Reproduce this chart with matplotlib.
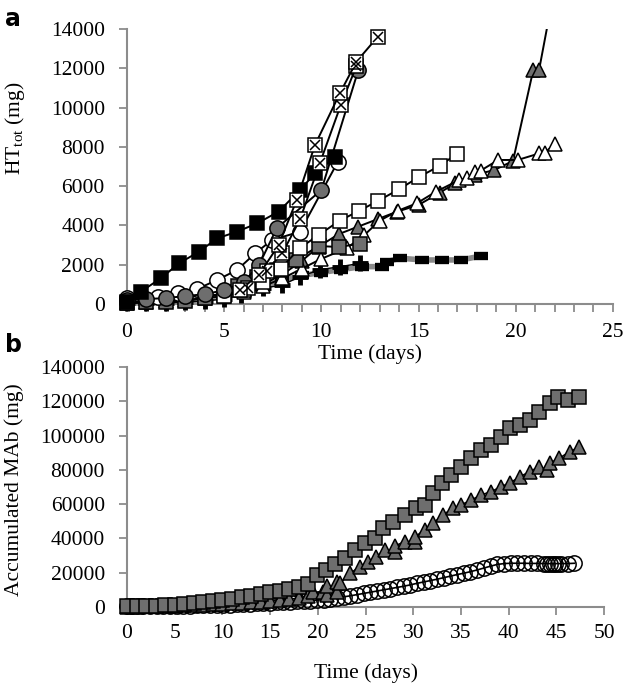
import numpy as np
import matplotlib
matplotlib.use('Agg')
import matplotlib.pyplot as plt

plt.rcParams['font.family'] = ['Liberation Serif', 'DejaVu Serif']
plt.rcParams['mathtext.fontset'] = 'custom'
plt.rcParams['mathtext.rm'] = 'Liberation Serif'
plt.rcParams['mathtext.it'] = 'Liberation Serif:italic'

# ---- panel a: HT_tot (mg) vs time (days) ----
blk_sq_days = [0, 0.72, 1.74, 2.68, 3.7, 4.64, 5.66, 6.69, 7.8, 8.9, 9.67, 10.7]
blk_sq_vals = [100, 630, 1310, 2070, 2660, 3340, 3680, 4100, 4700, 5800, 6650, 7500]

xsq1_days = [5.8, 6.8, 7.8, 8.73, 9.67, 10.95, 11.8, 12.9]
xsq1_vals = [700, 1500, 3000, 5290, 8090, 10720, 12330, 13600]

xsq2_days = [6.2, 7.2, 8.0, 8.9, 9.92, 11.0, 11.8]
xsq2_vals = [800, 1700, 2600, 4300, 7160, 10130, 12100]

gry_ci_days = [0, 1, 2, 3, 4, 5, 6, 6.8, 7.7, 10.0, 11.9]
gry_ci_vals = [200, 250, 300, 400, 500, 700, 1100, 2000, 3850, 5800, 11900]

opn_ci_days = [0, 1.57, 2.6, 3.6, 4.64, 5.66, 6.6, 7.45, 8.9, 10.85]
opn_ci_vals = [300, 370, 560, 760, 1220, 1730, 2580, 3250, 3680, 7240]

opn_sq_days = [5.0, 6, 7, 7.9, 8.9, 9.86, 10.94, 11.96, 12.9, 14.0, 15.0, 16.1, 16.96]
opn_sq_vals = [400, 700, 1100, 1800, 2850, 3510, 4240, 4750, 5240, 5840, 6450, 7040, 7635]

gry_sq_days = [0, 1, 2, 3, 4, 5, 5.7, 6.7, 7.7, 8.7, 9.86, 10.9, 12.0]
gry_sq_vals = [50, 80, 100, 150, 300, 600, 900, 1390, 1730, 2240, 2950, 2900, 3070]

opn_tr_days = [0, 1, 2, 3, 4, 5, 6, 7, 8, 9, 10, 11.3, 12.2, 13.0, 13.95, 14.9, 15.9, 17.1,
               17.5, 17.9, 18.2, 19.1, 20.1, 21.2, 21.5, 22.0]
opn_tr_vals = [50, 100, 150, 200, 300, 400, 600, 900, 1300, 1800, 2300, 2835, 3500, 4240, 4750,
               5120, 5720, 6310, 6400, 6730, 6790, 7330, 7330, 7660, 7700, 8140]

gry_tr_days = [0, 1, 2, 2.7, 4, 5, 6, 7, 8, 9, 9.86, 10.9, 11.9, 12.9, 13.9, 15.0, 16.1, 16.9,
               17.9, 18.9, 19.86, 20.9, 21.2, 22.2]
gry_tr_vals = [100, 150, 300, 500, 400, 500, 700, 1000, 1500, 2200, 2920, 3560, 3940, 4320, 4700,
               5040, 5670, 6150, 6570, 6820, 7280, 11900, 11900, 17150]

plus_days = [0, 1, 2, 3, 4, 5, 5.85, 7.0, 8.0, 8.9, 9.95, 10.97, 12.0]
plus_vals = [50, 50, 50, 100, 150, 250, 458, 800, 967, 1390, 1750, 1900, 2070]

dash_days = [0, 1, 2, 3, 4, 5, 6, 7, 8, 9, 10, 11, 12.1, 13.1, 13.4, 14.05, 15.2, 16.2, 17.2, 18.2]
dash_vals = [50, 50, 100, 150, 250, 400, 600, 900, 1200, 1450, 1600, 1750, 1900, 1900, 2160,
             2330, 2240, 2240, 2240, 2440]

# ---- panel b: accumulated MAb (mg) vs time (days) ----
b_sq_days = [0, 1, 2, 3, 4, 5, 6, 7, 8, 9, 10, 11, 12, 13, 14, 15, 16, 17, 18, 19, 19.9, 20.9,
             21.8, 22.8, 23.9, 24.9, 26.0, 26.8, 27.9, 29.1, 30.3, 31.2, 32.1, 33.0, 34.0, 35.0,
             36.1, 37.1, 38.2, 39.2, 40.1, 41.2, 42.2, 43.2, 44.3, 45.2, 46.2, 47.4]
b_sq_vals = [300, 400, 500, 700, 900, 1200, 1600, 2100, 2700, 3300, 4000, 4800, 5700, 6600, 7500,
             8500, 9500, 10500, 11700, 13200, 18500, 21500, 25000, 28500, 33250, 37150, 40070,
             45900, 49760, 53660, 57570, 59500, 66320, 72150, 77000, 81840, 86700, 91580, 94500,
             99330, 104200, 106200, 109100, 113900, 118800, 122700, 120800, 122700]

b_tr_days = [0, 1, 2, 3, 4, 5, 6, 7, 8, 9, 10, 11, 12, 13, 14, 15, 16, 17, 18, 19, 19.5, 20.5,
             21.0, 21.0, 22.0, 22.0, 22.3, 23.4, 24.4, 25.3, 26.1, 27.0, 28.1, 28.1, 29.1, 30.2,
             30.2, 31.2, 32.1, 33.1, 34.2, 35.0, 36.1, 37.1, 38.2, 39.2, 40.1, 41.2, 42.2, 43.2,
             44.0, 44.3, 45.3, 46.4, 47.4]
b_tr_vals = [200, 250, 300, 400, 500, 700, 900, 1100, 1300, 1600, 1900, 2200, 2500, 2800, 3100,
             3500, 4000, 4500, 5200, 6300, 8500, 9000, 7000, 12000, 9000, 14500, 13800, 19650,
             23500, 26400, 29300, 33250, 32000, 35600, 38100, 38000, 41000, 44900, 48800, 53700,
             57600, 59500, 62400, 65300, 67300, 70200, 72200, 76000, 78900, 81800, 80000, 83800,
             86700, 90600, 93200]

b_ci_days = [0, 0.5, 1, 1.7, 2.4, 3.1, 3.8, 4.5, 5.2, 5.9, 6.6, 7.3, 8.0, 8.7, 9.4, 10.1, 10.8,
             11.5, 12.2, 12.9, 13.6, 14.3, 15.0, 15.7, 16.4, 17.1, 17.8, 18.5, 19.2, 19.9, 20.6,
             21.3, 22.0, 22.7, 23.4, 24.1, 24.8, 25.5, 26.2, 26.9, 27.6, 28.3, 29.0, 29.7, 30.4,
             31.1, 31.8, 32.5, 33.2, 33.9, 34.6, 35.3, 36.0, 36.7, 37.4, 38.1, 38.8, 39.5, 40.2,
             40.9, 41.6, 42.3, 43.0, 43.7, 44.0, 44.3, 44.6, 44.9, 45.2, 45.5, 46.2, 46.9]
b_ci_vals = [300, 300, 300, 300, 350, 400, 450, 500, 600, 700, 800, 900, 1000, 1100, 1200, 1300,
             1400, 1500, 1700, 1900, 2100, 2300, 2500, 2700, 2900, 3100, 3300, 3500, 3700, 3900,
             4300, 4800, 5300, 5900, 6500, 7200, 7900, 8600, 9300, 10000, 10700, 11400, 12100,
             12900, 13800, 14600, 15400, 16200, 17100, 18000, 18900, 19700, 20600, 21600, 22700,
             23800, 24800, 25300, 25500, 25500, 25500, 25400, 25400, 25300, 25300, 25300, 25300,
             25300, 25300, 25300, 25300, 25500]

grey = '#8c8c8c'
fill = '#6e6e6e'

fig = plt.figure(figsize=(6.31, 6.86), dpi=100)
ax_a = fig.add_axes([0.2013, 0.5569, 0.770, 0.4009])
ax_b = fig.add_axes([0.2013, 0.1152, 0.756, 0.3499])

ms = 9.5
mew = 1.1
lw = 1.4

# grey dashed line with black bar markers, drawn first (underneath)
ax_a.plot(dash_days, dash_vals, color='#8a8a8a', lw=4, marker='_', ms=10, mew=6,
          mec='black', clip_on=False, zorder=2)
ax_a.plot(plus_days, plus_vals, color='black', lw=1, marker='+', ms=12, mew=3.5,
          mec='black', clip_on=False, zorder=3)
ax_a.plot(gry_tr_days, gry_tr_vals, color='black', lw=lw, marker='^', ms=ms + 1, mfc=fill,
          mec='black', mew=mew, zorder=3)
ax_a.plot(opn_tr_days, opn_tr_vals, color='black', lw=lw, marker='^', ms=ms + 1, mfc='white',
          mec='black', mew=mew, clip_on=False, zorder=3)
ax_a.plot(gry_sq_days, gry_sq_vals, color='black', lw=lw, marker='s', ms=ms, mfc=fill,
          mec='black', mew=mew, clip_on=False, zorder=3)
ax_a.plot(opn_sq_days, opn_sq_vals, color='black', lw=lw, marker='s', ms=ms, mfc='white',
          mec='black', mew=mew, clip_on=False, zorder=3)
ax_a.plot(opn_ci_days, opn_ci_vals, color='black', lw=lw, marker='o', ms=ms + 1.5, mfc='white',
          mec='black', mew=mew, clip_on=False, zorder=4)
ax_a.plot(gry_ci_days, gry_ci_vals, color='black', lw=lw, marker='o', ms=ms + 1.5, mfc=fill,
          mec='black', mew=mew, clip_on=False, zorder=4)
ax_a.plot(blk_sq_days, blk_sq_vals, color='black', lw=lw, marker='s', ms=ms, mfc='black',
          mec='black', mew=mew, clip_on=False, zorder=5)
for d, v in [(xsq2_days, xsq2_vals), (xsq1_days, xsq1_vals)]:
    ax_a.plot(d, v, color='black', lw=lw, marker='s', ms=ms, mfc='white', mec='black',
              mew=mew, clip_on=False, zorder=5)
    ax_a.plot(d, v, ls='none', marker='x', ms=ms * 0.8, mec='black', mew=mew,
              clip_on=False, zorder=6)

ax_a.set_xlim(0, 25)
ax_a.set_ylim(0, 14000)
ax_a.set_xticks([0, 5, 10, 15, 20, 25])
ax_a.set_xticks(range(0, 26), minor=True)
ax_a.set_yticks(range(0, 14001, 2000))
ax_a.set_xlabel('Time (days)', fontsize=15.5, labelpad=1)
ax_a.set_ylabel(r'HT$_{\rm tot}$ (mg)', fontsize=15.5)
ax_a.yaxis.set_label_coords(-0.205, 0.64)

# panel b
ax_b.plot(b_ci_days, b_ci_vals, color='black', lw=1.2, marker='o', ms=11, mfc='none',
          mec='black', mew=mew, clip_on=False, zorder=3)
ax_b.plot(b_tr_days, b_tr_vals, color='black', lw=1.2, marker='^', ms=10, mfc=fill,
          mec='black', mew=mew, clip_on=False, zorder=4)
ax_b.plot(b_sq_days, b_sq_vals, color='black', lw=1.2, marker='s', ms=9.5, mfc=fill,
          mec='black', mew=mew, clip_on=False, zorder=5)

ax_b.set_xlim(0, 50)
ax_b.set_ylim(0, 140000)
ax_b.set_xticks(range(0, 51, 5))
ax_b.set_yticks(range(0, 140001, 20000))
ax_b.set_xlabel('Time (days)', fontsize=15.5, labelpad=15)
ax_b.set_ylabel('Accumulated MAb (mg)', fontsize=15.5)
ax_b.yaxis.set_label_coords(-0.215, 0.49)

for ax in (ax_a, ax_b):
    for s in ('top', 'right'):
        ax.spines[s].set_visible(False)
    for s in ('left', 'bottom'):
        ax.spines[s].set_color(grey)
        ax.spines[s].set_linewidth(1.5)
        ax.spines[s].set_zorder(1)
    ax.tick_params(which='both', direction='out', color=grey, width=1.3, length=6,
                   labelsize=15.5)
    ax.tick_params(axis='y', pad=10)
ax_a.tick_params(axis='x', pad=8)
ax_b.tick_params(axis='x', pad=6)

fig.text(0.008, 0.99, 'a', fontsize=17, fontweight='bold', family='DejaVu Sans', va='top')
fig.text(0.008, 0.515, 'b', fontsize=17, fontweight='bold', family='DejaVu Sans', va='top')

fig.savefig('out.png', dpi=100)
